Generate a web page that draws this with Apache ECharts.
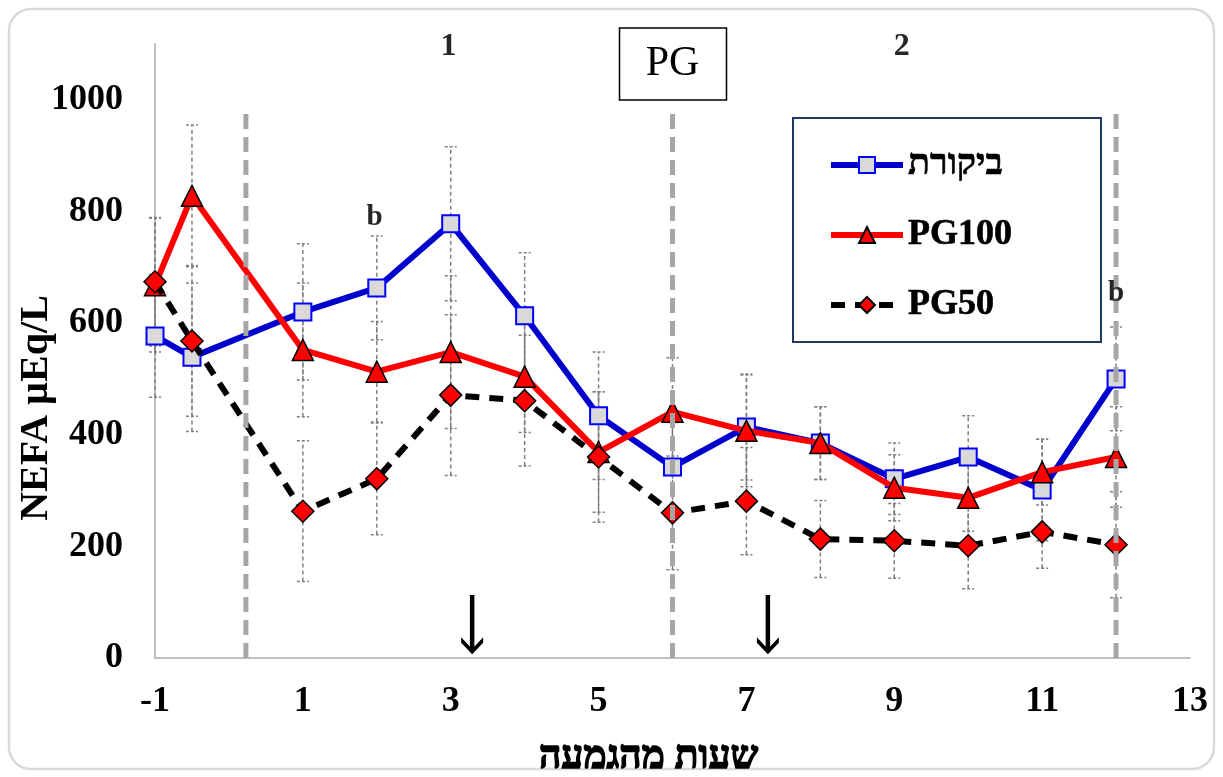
<!DOCTYPE html>
<html><head><meta charset="utf-8">
<script src="https://cdn.jsdelivr.net/npm/echarts@6/dist/echarts.min.js"></script>
<style>html,body{margin:0;padding:0;background:#fff}#c{width:1223px;height:777px}</style>
</head><body><div id="c"></div>
<script>
// ---- data ----
const hours = [-1, -0.5, 1, 2, 3, 4, 5, 6, 7, 8, 9, 10, 11, 12];
const seriesNames = ['ביקורת', 'PG100', 'PG50'];
const control = [577, 539, 620, 663, 778, 613, 434, 342, 414, 385, 321, 360, 301, 500];
const controlErr = [110, 133, 122, 93, 138, 113, 114, 80, 95, 65, 64, 74, 91, 93];
const pg100 = [668, 828, 552, 513, 548, 504, 369, 441, 407, 385, 305, 287, 333, 360];
const pg100Err = [120, 127, 120, 90, 137, 100, 108, 97, 100, 65, 59, 60, 59, 90];
const pg50 = [674, 568, 263, 321, 471, 461, 360, 260, 281, 213, 210, 201, 226, 203];
const pg50Err = [115, 135, 126, 100, 144, 117, 117, 102, 96, 69, 67, 77, 65, 95];
const yTicks = [0, 200, 400, 600, 800, 1000];
const xTicks = [-1, 1, 3, 5, 7, 9, 11, 13];
const phaseLines = [0.23, 6, 12];     // vertical dashed guides (x)
const phaseLineTop = 985;
const arrowsX = [3.29, 7.29];
const arrowFrom = 113, arrowTo = 11;
const phaseLabels = [[2.97, 1095, '1'], [9.1, 1095, '2']];
const boxLabel = [6, 1064, 'PG'];
const sigLabels = [[1.97, 790, 'b'], [12, 653, 'b']];
const xTitle = 'שעות מהגמעה';
const yTitle = 'NEFA µEq/L';

// ---- chart ----
const FONT = '"Liberation Serif", "Times New Roman", serif';
const chart = echarts.init(document.getElementById('c'), null, {renderer: 'canvas'});

function errSeries(vals, errs) {
  return {
    type: 'custom', silent: true, z: 1,
    data: hours.map((h, i) => [h, vals[i] - errs[i], vals[i] + errs[i]]),
    encode: {x: 0, y: [1, 2]},
    renderItem: (params, api) => {
      const x = api.value(0);
      const lo = api.coord([x, api.value(1)]);
      const hi = api.coord([x, api.value(2)]);
      const w = 6;
      const cap = {stroke: '#808080', lineWidth: 1.5, lineDash: [3, 2]};
      return {type: 'group', children: [
        {type: 'line', shape: {x1: lo[0], y1: lo[1], x2: hi[0], y2: hi[1]}, style: {stroke: '#808080', lineWidth: 1.5, lineDash: [4, 3]}},
        {type: 'line', shape: {x1: lo[0] - w, y1: lo[1], x2: lo[0] + w, y2: lo[1]}, style: cap},
        {type: 'line', shape: {x1: hi[0] - w, y1: hi[1], x2: hi[0] + w, y2: hi[1]}, style: cap}
      ]};
    }
  };
}

function textSeries(items, size, boxed, color) {
  return {
    type: 'custom', silent: true, z: 8,
    data: items, encode: {x: 0, y: 1},
    renderItem: (params, api) => {
      const p = api.coord([api.value(0), api.value(1)]);
      const txt = items[params.dataIndex][2];
      const children = [];
      if (boxed) {
        children.push({type: 'rect', shape: {x: p[0] - 53, y: p[1] - 36, width: 107, height: 72},
          style: {fill: '#fff', stroke: '#000', lineWidth: 1.5}});
      }
      children.push({type: 'text', x: p[0], y: p[1], style: {text: txt, fill: color,
        font: (boxed ? 'normal ' : 'bold ') + size + 'px ' + FONT, align: 'center', verticalAlign: 'middle'}});
      return {type: 'group', children};
    }
  };
}

const series = [];
series.push(errSeries(control, controlErr));
series.push(errSeries(pg100, pg100Err));
series.push(errSeries(pg50, pg50Err));

phaseLines.forEach(x => series.push({
  type: 'line', silent: true, z: 5, symbol: 'none',
  data: [[x, 0], [x, phaseLineTop]],
  lineStyle: {color: '#a6a6a6', width: 5, type: [15, 8]}
}));

series.push({
  name: seriesNames[0], type: 'line', z: 2,
  data: hours.map((h, i) => [h, control[i]]),
  symbol: 'rect', symbolSize: 17,
  lineStyle: {color: '#0000cc', width: 6},
  itemStyle: {color: '#d9d9d9', borderColor: '#0000ff', borderWidth: 2}
});
series.push({
  name: seriesNames[1], type: 'line', z: 3,
  data: hours.map((h, i) => [h, pg100[i]]),
  symbol: 'triangle', symbolSize: 21,
  lineStyle: {color: '#ff0000', width: 6},
  itemStyle: {color: '#ff0000', borderColor: '#000', borderWidth: 1.5}
});
series.push({
  name: seriesNames[2], type: 'line', z: 4,
  data: hours.map((h, i) => [h, pg50[i]]),
  symbol: 'diamond', symbolSize: 22,
  lineStyle: {color: '#000', width: 6, type: [14, 10]},
  itemStyle: {color: '#ff0000', borderColor: '#000', borderWidth: 1.5}
});

const chevron = 'path://M0,0 L10,10 L20,0 L20,4.5 L10,14.5 L0,4.5 Z';
arrowsX.forEach(x => series.push({
  type: 'line', silent: true, z: 6,
  data: [{value: [x, arrowFrom], symbol: 'none'}, {value: [x, arrowTo], symbol: chevron, symbolSize: [22, 17], symbolOffset: [0, -6]}],
  lineStyle: {color: '#000', width: 4.5},
  itemStyle: {color: '#000'}
}));

series.push(textSeries(phaseLabels, 32, false, '#262626'));
series.push(textSeries(sigLabels, 29, false, '#262626'));
series.push(textSeries([boxLabel], 42, true, '#000'));

chart.setOption({
  animation: false,
  backgroundColor: '#fff',
  grid: {left: 155, right: 33, top: 44, bottom: 119, containLabel: false, outerBoundsMode: 'none'},
  xAxis: {
    type: 'value', min: -1, max: 13, interval: 2,
    axisLine: {show: true, onZero: false, lineStyle: {color: '#bfbfbf', width: 2}},
    axisTick: {show: false}, splitLine: {show: false},
    axisLabel: {fontFamily: FONT, fontWeight: 'bold', fontSize: 36, color: '#000', margin: 26,
      formatter: v => xTicks.includes(v) ? String(v) : ''},
    name: xTitle, nameLocation: 'middle', nameGap: 80, nameMoveOverlap: false,
    nameTextStyle: {fontFamily: FONT, fontWeight: 'bold', fontSize: 39, color: '#000', padding: [0, 48, 0, 0],
      textBorderColor: '#000', textBorderWidth: 1.5}
  },
  yAxis: {
    type: 'value', min: 0, max: 1100, interval: 200,
    axisLine: {show: true, onZero: false, lineStyle: {color: '#bfbfbf', width: 2}},
    axisTick: {show: false}, splitLine: {show: false},
    axisLabel: {fontFamily: FONT, fontWeight: 'bold', fontSize: 36, color: '#000', margin: 32,
      formatter: v => yTicks.includes(v) ? String(v) : ''},
    name: yTitle, nameLocation: 'middle', nameGap: 98, nameRotate: 90, nameMoveOverlap: false,
    nameTextStyle: {fontFamily: FONT, fontWeight: 'bold', fontSize: 40, color: '#000', padding: [0, 114, 0, 0]}
  },
  legend: {
    data: seriesNames, orient: 'vertical', left: 828, top: 145, padding: 0,
    itemWidth: 72, itemHeight: 20, itemGap: 30,
    lineStyle: {width: 6},
    textStyle: {fontFamily: FONT, fontWeight: 'bold', fontSize: 36, color: '#000', lineHeight: 40,
      textBorderColor: '#000', textBorderWidth: 0.6}
  },
  graphic: [
    {type: 'rect', z: -1, shape: {x: 9, y: 9, width: 1205, height: 760, r: 22}, style: {fill: 'none', stroke: '#d9d9d9', lineWidth: 2.5}},
    {type: 'rect', z: 0, shape: {x: 793, y: 118, width: 308, height: 224}, style: {fill: '#fff', stroke: '#203864', lineWidth: 2}}
  ],
  series: series
});
</script>
</body></html>
